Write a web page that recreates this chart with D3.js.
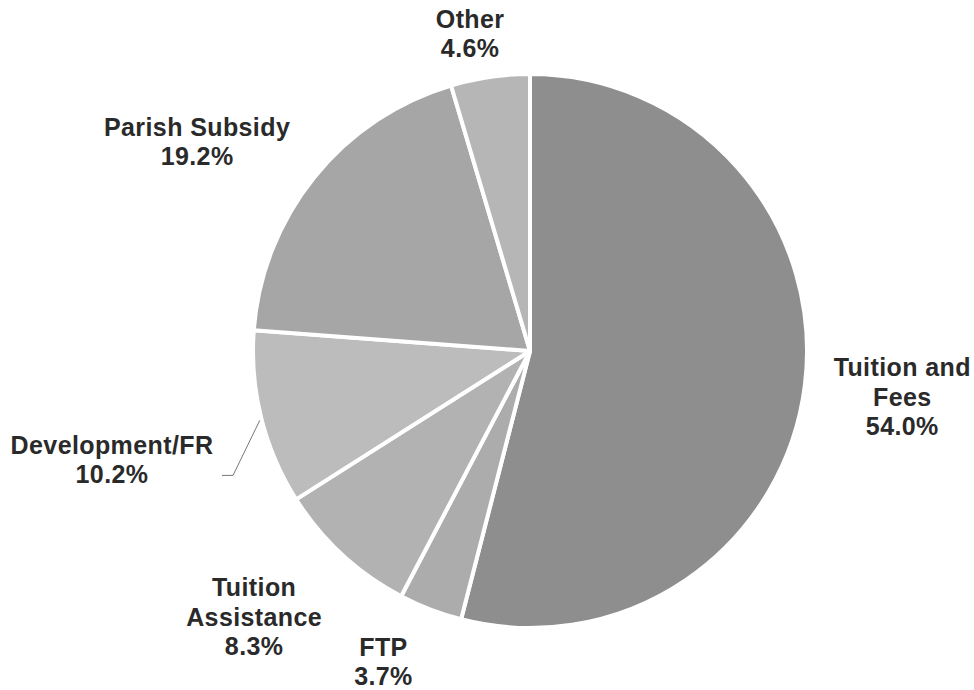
<!DOCTYPE html>
<html>
<head>
<meta charset="utf-8">
<script src="https://cdn.jsdelivr.net/npm/d3@7"></script>
<style>
    body { margin: 0; background: #fff; }
    svg { display: block; }
    .label { font-family: "Liberation Sans", Arial, sans-serif; font-weight: bold; font-size: 25px; letter-spacing: 0.4px; fill: #2a2a2a; }
</style>
</head>
<body>
<div id="chart"></div>
<script>
const categories = ['Tuition and Fees', 'FTP', 'Tuition Assistance', 'Development/FR', 'Parish Subsidy', 'Other'];
const shares = [54.0, 3.7, 8.3, 10.2, 19.2, 4.6];
const labelLines = [['Tuition and', 'Fees'], ['FTP'], ['Tuition', 'Assistance'], ['Development/FR'], ['Parish Subsidy'], ['Other']];

const chart = {
    init: function () {
        const width = 974;
        const height = 690;
        const cx = 530;
        const cy = 351;
        const radius = 277;
        const lineHeight = 29.5;

        // fills and label placement (radius factor, angle nudge in degrees)
        const fills = ['#8e8e8e', '#acacac', '#b2b2b2', '#bcbcbc', '#a6a6a6', '#b6b6b6'];
        const labelRadius = [1.354, 1.24, 1.383, 1.559, 1.42, 1.166];
        const labelNudge = [-0.2, 4.2, 3.4, -0.5, -6.7, -2.4];

        const data = categories.map((c, i) => ({name: c, value: shares[i], lines: labelLines[i], i: i}));

        const svg = d3.select('#chart').append('svg')
            .attr('width', width)
            .attr('height', height);

        const g = svg.append('g')
            .attr('transform', `translate(${cx},${cy})`);

        const pie = d3.pie().value(d => d.value).sort(null);
        const arc = d3.arc().innerRadius(0).outerRadius(radius);
        const arcs = pie(data);

        g.selectAll('path.slice')
            .data(arcs)
            .enter()
            .append('path')
            .attr('class', 'slice')
            .attr('d', arc)
            .attr('fill', d => fills[d.data.i])
            .attr('stroke', '#fff')
            .attr('stroke-width', 4)
            .attr('stroke-linejoin', 'round');

        function labelPos(d) {
            const a = (d.startAngle + d.endAngle) / 2 + labelNudge[d.data.i] * Math.PI / 180;
            const r = radius * labelRadius[d.data.i];
            return [Math.sin(a) * r, -Math.cos(a) * r];
        }

        // leader line for Development/FR
        const dev = arcs[3];
        const devPos = labelPos(dev);
        const edgeA = dev.startAngle + (dev.endAngle - dev.startAngle) * 0.49;
        const edge = [Math.sin(edgeA) * (radius + 2), -Math.cos(edgeA) * (radius + 2)];
        g.append('path')
            .attr('d', d3.line()([edge, [devPos[0] + 121, devPos[1] + 16], [devPos[0] + 110, devPos[1] + 16]]))
            .attr('fill', 'none')
            .attr('stroke', '#777')
            .attr('stroke-width', 1);

        const labels = g.selectAll('text.label')
            .data(arcs)
            .enter()
            .append('text')
            .attr('class', 'label')
            .attr('text-anchor', 'middle')
            .attr('transform', d => `translate(${labelPos(d)})`);

        labels.each(function (d) {
            const lines = d.data.lines.concat([d.data.value.toFixed(1) + '%']);
            const top = -(lines.length - 1) * lineHeight / 2 + 9;
            d3.select(this).selectAll('tspan')
                .data(lines)
                .enter()
                .append('tspan')
                .attr('x', 0)
                .attr('y', (l, k) => top + k * lineHeight)
                .text(l => l);
        });
    }
};

window.addEventListener('load', () => chart.init());
</script>
</body>
</html>
